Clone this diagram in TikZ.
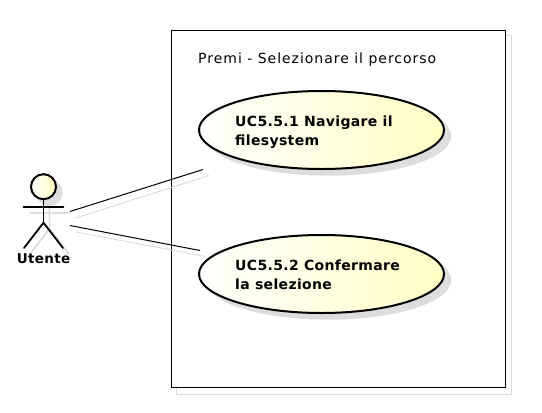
\documentclass[tikz,border=0pt]{standalone}
\usepackage{fontspec}
\setmainfont{DejaVu Sans}
\newfontfamily\spacedfont[LetterSpace=7]{DejaVu Sans}
\newfontfamily\spacedbold[LetterSpace=2.5,BoldFont={DejaVu Sans Bold}]{DejaVu Sans Bold}
\usetikzlibrary{shapes.geometric}
\definecolor{shadowgray}{HTML}{DDDDDD}
\definecolor{ucfill}{HTML}{FFFFC4}
\tikzset{
  x=1pt,y=-1pt,
  lw/.style={line width=1pt,draw=black},
  shadowline/.style={line width=1pt,draw=shadowgray},
  ucshadow/.style={ellipse,fill=shadowgray,draw=shadowgray,line width=1.4pt,minimum width=245pt,minimum height=78pt,inner sep=0pt},
  uc/.style={ellipse,draw=black,line width=2pt,left color=white,right color=ucfill,minimum width=245pt,minimum height=78pt,inner sep=0pt},
  uclabel/.style={font=\spacedbold\fontsize{14}{19}\selectfont,align=left,inner sep=0pt,anchor=north west},
  limb/.style={line width=1.8pt,draw=black,line cap=round},
  limbshadow/.style={line width=1.8pt,draw=shadowgray,line cap=round},
}
\begin{document}
\begin{tikzpicture}
\useasboundingbox (0,0) rectangle (542,413);
% system boundary
\draw[shadowline] (176.5,35.5) rectangle (511,394);
\node[draw=black,fill=white,line width=1pt,minimum width=334pt,minimum height=357.5pt,inner sep=0pt,anchor=north west] (sys) at (170.5,29.5) {};
\node[font=\spacedfont\fontsize{14}{16}\selectfont,anchor=base west,inner sep=0pt] (title) at (198,63.5) {Premi - Selezionare il percorso};
% use cases
\node[ucshadow] (s1) at (328,136) {};
\node[ucshadow] (s2) at (328,280) {};
\node[uc] (uc1) at (321.5,130) {};
\node[uc] (uc2) at (321.5,274) {};
\node[uclabel] (t1) at (235,115.5) {UC5.5.1 Navigare il\\filesystem};
\node[uclabel] (t2) at (235,259.5) {UC5.5.2 Confermare\\la selezione};
% actor shadow
\coordinate (ah) at (49.5,192.7);
\draw[limbshadow] (30,213.3) -- (69.5,213.3);
\draw[limbshadow] (49.5,205) -- (49.5,228.7) -- (30,254);
\draw[limbshadow] (49.5,228.7) -- (69,254);
\fill[shadowgray] (ah) circle (13.2);
% actor
\node[circle,draw=black,line width=2pt,left color=white,right color=ucfill,minimum size=25pt,inner sep=0pt] (head) at (43.5,186.7) {};
\coordinate (armL) at (23.5,207.3);
\coordinate (armR) at (63.5,207.3);
\coordinate (hip) at (43.5,222.7);
\coordinate (footL) at (24,248);
\coordinate (footR) at (63,248);
\draw[limb] (armL) -- (armR);
\draw[limb] (head.south) -- (hip);
\draw[limb] (footL) -- (hip) -- (footR);
\node[font=\spacedbold\fontsize{13.5}{14}\selectfont,anchor=base,inner sep=0pt] (actor) at (43.5,263) {Utente};
% connectors
\coordinate (a1) at (70,211.5);
\coordinate (b1) at (203,169.5);
\coordinate (a2) at (70,225.5);
\coordinate (b2) at (200,250.5);
\coordinate (a1s) at (76,218);
\coordinate (b1s) at (209,175.5);
\coordinate (a2s) at (76,232);
\coordinate (b2s) at (206,256.5);
\draw[shadowline] (a1s) -- (b1s);
\draw[shadowline] (a2s) -- (b2s);
\draw[lw] (a1) -- (b1);
\draw[lw] (a2) -- (b2);
\end{tikzpicture}
\end{document}
